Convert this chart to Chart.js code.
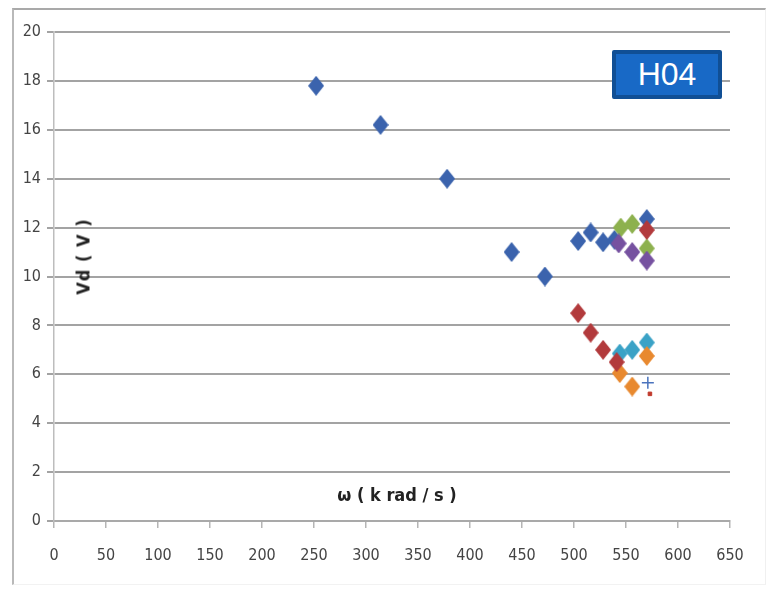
<!DOCTYPE html>
<html>
<head>
<meta charset="utf-8">
<script src="https://cdn.jsdelivr.net/npm/chart.js@4/dist/chart.umd.min.js"></script>
<style>
  html, body { margin: 0; padding: 0; background: #fff; }
  #wrap { position: relative; width: 769px; height: 591px; overflow: hidden; }
  #frame { position: absolute; left: 12px; top: 8px; width: 754px; height: 577px;
           border-top: 2px solid #a9a9a9; border-left: 2px solid #b9b9b9;
           border-right: 1px solid #f0f0f0; border-bottom: 1px solid #f2f2f2; box-sizing: border-box; }
  canvas { position: absolute; left: 0; top: 0; }
  .badge { position: absolute; left: 612px; top: 50px; width: 110px; height: 49px; box-sizing: border-box;
           background: #1869c6; border: 4px solid #104f95; border-radius: 2px;
           color: #fff; font: 32px "Liberation Sans", Arial, sans-serif; text-align: center; line-height: 41px; }
  .xtitle { position: absolute; left: 297px; top: 484px; width: 200px; text-align: center;
            font: bold 18px "DejaVu Sans Condensed", sans-serif; color: #222; }
  .ytitle { position: absolute; left: 33px; top: 246px; width: 100px; text-align: center;
            font: bold 18px "DejaVu Sans Condensed", sans-serif; color: #222; letter-spacing: 1px;
            transform: rotate(-90deg); }
</style>
</head>
<body>
<div id="wrap">
  <div id="frame"></div>
  <canvas id="chart" width="769" height="591"></canvas>
  <div class="badge">H04</div>
  <div class="xtitle">ω ( k rad / s )</div>
  <div class="ytitle">Vd ( V )</div>
</div>
<script>
// axis ranges
const xMin = 0, xMax = 650, xStep = 50;
const yMin = 0, yMax = 20, yStep = 2;

// series: omega (k rad/s) and Vd (V)
const blueX   = [252, 314, 378, 440, 472, 504, 516, 528, 539, 570];
const blueY   = [17.8, 16.2, 14.0, 11.0, 10.0, 11.45, 11.8, 11.4, 11.5, 12.35];
const redX    = [504, 516, 528, 541, 570];
const redY    = [8.5, 7.7, 7.0, 6.5, 11.9];
const greenX  = [545, 556, 570];
const greenY  = [12.0, 12.15, 11.15];
const purpleX = [543, 556, 570];
const purpleY = [11.35, 11.0, 10.65];
const cyanX   = [544, 556, 570];
const cyanY   = [6.85, 7.0, 7.3];
const orangeX = [544, 556, 570];
const orangeY = [6.05, 5.5, 6.75];
const plusX   = [571];
const plusY   = [5.65];
const smallX  = [573];
const smallY  = [5.2];

function pts(xs, ys) {
    return xs.map((x, i) => ({ x: x, y: ys[i] }));
}

// tall diamond marker like the spreadsheet one
function diamond(color) {
    const c = document.createElement('canvas');
    c.width = 16; c.height = 20;
    const g = c.getContext('2d');
    g.fillStyle = color;
    g.beginPath();
    g.moveTo(8, 0);
    g.lineTo(16, 10);
    g.lineTo(8, 20);
    g.lineTo(0, 10);
    g.closePath();
    g.fill();
    return c;
}

function series(label, data, color, order) {
    return {
        label: label,
        data: data,
        pointStyle: diamond(color),
        pointRadius: 8,
        backgroundColor: color,
        borderColor: color,
        order: order
    };
}

const tickFont = { family: '"DejaVu Sans Condensed", sans-serif', size: 16 };

const ctx = document.getElementById('chart').getContext('2d');
new Chart(ctx, {
    type: 'scatter',
    data: {
        datasets: [
            { label: 'p1', data: pts(smallX, smallY), pointStyle: 'rect', pointRadius: 2.5,
              backgroundColor: '#c0392b', borderColor: '#c0392b', borderWidth: 1, order: 0 },
            { label: 'p2', data: pts(plusX, plusY), pointStyle: 'cross', pointRadius: 6,
              backgroundColor: '#3b64ad', borderColor: '#4a73bd', borderWidth: 1.5, order: 1 },
            series('red', pts(redX, redY), '#b23a3c', 2),
            series('orange', pts(orangeX, orangeY), '#e8892f', 3),
            series('cyan', pts(cyanX, cyanY), '#3aa2c6', 4),
            series('purple', pts(purpleX, purpleY), '#7651a0', 5),
            series('green', pts(greenX, greenY), '#8db14e', 6),
            series('blue', pts(blueX, blueY), '#3b63ad', 7)
        ]
    },
    options: {
        responsive: false,
        animation: false,
        layout: { padding: { top: 32, right: 39, left: 0, bottom: 0 } },
        plugins: {
            legend: { display: false },
            tooltip: { enabled: false }
        },
        scales: {
            x: {
                type: 'linear',
                min: xMin, max: xMax,
                afterFit: (s) => { s.height = 70; },
                ticks: { stepSize: xStep, padding: 18, color: '#444', font: tickFont },
                grid: { drawOnChartArea: false, tickLength: 7, color: '#b5b5b5', lineWidth: 1.5 },
                border: { color: '#a9a9a9', width: 2 }
            },
            y: {
                min: yMin, max: yMax,
                afterFit: (s) => { s.width = 54; },
                ticks: { stepSize: yStep, padding: 6, color: '#444', font: tickFont },
                grid: { color: '#a3a3a3', lineWidth: 2, tickLength: 7 },
                border: { color: '#bdbdbd', width: 1.5 }
            }
        }
    }
});
</script>
</body>
</html>
